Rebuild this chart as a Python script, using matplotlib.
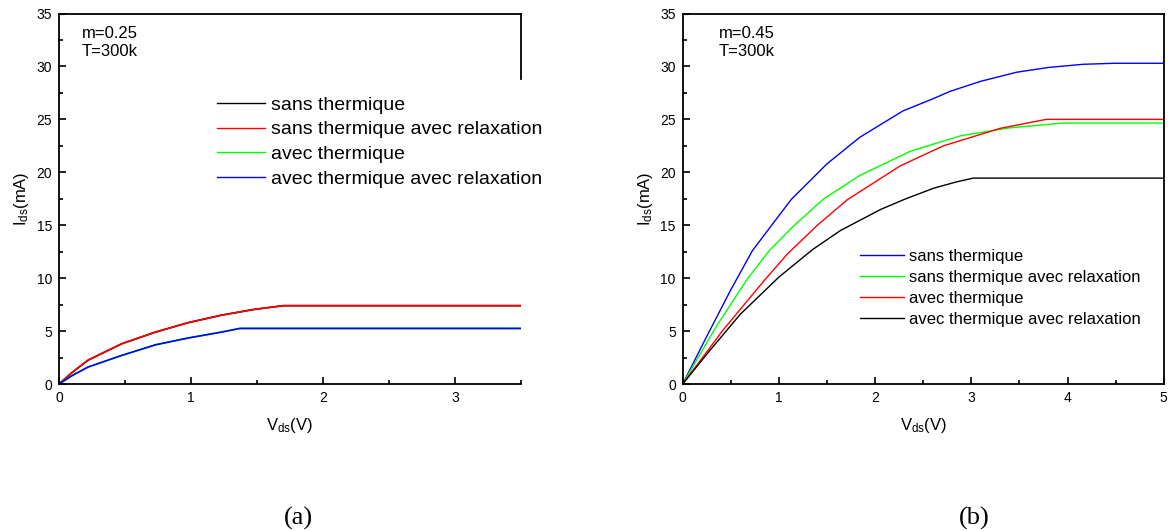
import numpy as np
import matplotlib
matplotlib.use("Agg")
import matplotlib.pyplot as plt
from matplotlib.ticker import MultipleLocator

plt.rcParams['font.family'] = ['Liberation Sans', 'DejaVu Sans']
plt.rcParams['mathtext.fontset'] = 'custom'
plt.rcParams['mathtext.rm'] = 'Liberation Sans'
plt.rcParams['mathtext.it'] = 'Liberation Sans'

# --- panel (a): m=0.25 ---
v_a_sans = [0, 0.1, 0.22, 0.475, 0.73, 0.98, 1.23, 1.48, 1.7, 3.5]
i_a_sans = [0, 1.1, 2.25, 3.8, 4.9, 5.8, 6.5, 7.05, 7.4, 7.4]
i_a_sans_relax = i_a_sans  # same curve as sans thermique
v_a_avec = [0, 0.1, 0.22, 0.475, 0.73, 0.98, 1.23, 1.37, 3.5]
i_a_avec = [0, 0.8, 1.6, 2.7, 3.7, 4.35, 4.9, 5.25, 5.25]
i_a_avec_relax = i_a_avec  # same curve as avec thermique

# --- panel (b): m=0.45 ---
v_b_sans = [0, 0.25, 0.5, 0.725, 1.0, 1.13, 1.5, 1.84, 2.29, 2.59, 2.78, 3.1, 3.47, 3.8, 4.16, 4.49, 5.0]
i_b_sans = [0, 4.5, 8.9, 12.6, 15.9, 17.45, 20.8, 23.3, 25.8, 26.9, 27.65, 28.6, 29.45, 29.9, 30.2, 30.3, 30.3]
v_b_sans_relax = [0, 0.35, 0.67, 0.9, 1.15, 1.46, 1.84, 2.37, 2.89, 3.4, 3.95, 5.0]
i_b_sans_relax = [0, 5.45, 9.9, 12.6, 14.9, 17.45, 19.7, 22.0, 23.45, 24.2, 24.65, 24.65]
v_b_avec = [0, 0.42, 0.84, 1.09, 1.4, 1.71, 2.26, 2.71, 3.3, 3.78, 5.0]
i_b_avec = [0, 5.1, 9.7, 12.3, 15.0, 17.4, 20.6, 22.5, 24.15, 25.0, 25.0]
v_b_avec_relax = [0, 0.285, 0.6, 1.0, 1.35, 1.64, 2.06, 2.32, 2.61, 2.85, 3.02, 5.0]
i_b_avec_relax = [0, 3.2, 6.6, 10.1, 12.7, 14.5, 16.5, 17.5, 18.5, 19.1, 19.45, 19.45]

labels = ["sans thermique", "sans thermique avec relaxation",
          "avec thermique", "avec thermique avec relaxation"]

fig = plt.figure(figsize=(11.68, 5.31), dpi=100)
ax1 = fig.add_axes([59 / 1168, 1 - 384 / 531, 462 / 1168, 370.5 / 531])
ax2 = fig.add_axes([682.7 / 1168, 1 - 384 / 531, 481 / 1168, 370.5 / 531])


def style_axes(ax, xmax):
    ax.set_xlim(0, xmax)
    ax.set_ylim(0, 35)
    ax.xaxis.set_major_locator(MultipleLocator(1))
    ax.xaxis.set_minor_locator(MultipleLocator(0.5))
    ax.yaxis.set_major_locator(MultipleLocator(5))
    ax.yaxis.set_minor_locator(MultipleLocator(2.5))
    ax.tick_params(which='both', direction='in', labelsize=10, width=1.2,
                   top=False, right=False, pad=5)
    ax.tick_params(which='major', length=5)
    ax.tick_params(which='minor', length=3)
    for s in ax.spines.values():
        s.set_linewidth(1.3)
    ax.set_xlabel(r'$\mathregular{V_{ds}}$(V)', fontsize=12, labelpad=8)
    ax.set_ylabel(r'$\mathregular{I_{ds}}$(mA)', fontsize=12, labelpad=4)


# panel (a)
ax1.plot(v_a_sans, i_a_sans, color='black', lw=1.2, label=labels[0])
ax1.plot(v_a_sans, i_a_sans_relax, color='#ff0000', lw=1.2, label=labels[1])
ax1.plot(v_a_avec, i_a_avec, color='#00ff00', lw=1.2, label=labels[2])
ax1.plot(v_a_avec, i_a_avec_relax, color='#0000ff', lw=1.2, label=labels[3])
style_axes(ax1, 3.5)
ax1.spines['right'].set_bounds(28.8, 35)
ax1.text(0.05, 0.965, "m=0.25\nT=300k", transform=ax1.transAxes,
         fontsize=12, va='top', ha='left', linespacing=1.2)
leg1 = ax1.legend(loc='upper left', bbox_to_anchor=(0.341, 0.777), frameon=False,
                  fontsize=14, handlelength=2.5, handletextpad=0.3,
                  labelspacing=0.36, borderpad=0, borderaxespad=0)
for h in leg1.get_lines():
    h.set_linewidth(1.0)

# panel (b)
ax2.plot(v_b_sans, i_b_sans, color='#0000ff', lw=1.0, label=labels[0])
ax2.plot(v_b_sans_relax, i_b_sans_relax, color='#00ff00', lw=1.0, label=labels[1])
ax2.plot(v_b_avec, i_b_avec, color='#ff0000', lw=1.0, label=labels[2])
ax2.plot(v_b_avec_relax, i_b_avec_relax, color='black', lw=1.0, label=labels[3])
style_axes(ax2, 5)
ax2.text(0.075, 0.965, "m=0.45\nT=300k", transform=ax2.transAxes,
         fontsize=12, va='top', ha='left', linespacing=1.2)
ax2.legend(loc='upper left', bbox_to_anchor=(0.369, 0.364), frameon=False,
           fontsize=12, handlelength=2.6, handletextpad=0.3,
           labelspacing=0.35, borderpad=0, borderaxespad=0)

fig.text(298 / 1168, 1 - 518 / 531, "(a)", fontsize=19, ha='center', va='center',
         family=['Liberation Serif', 'DejaVu Serif'])
fig.text(974 / 1168, 1 - 518 / 531, "(b)", fontsize=19, ha='center', va='center',
         family=['Liberation Serif', 'DejaVu Serif'])

fig.savefig("out.png", dpi=100)
